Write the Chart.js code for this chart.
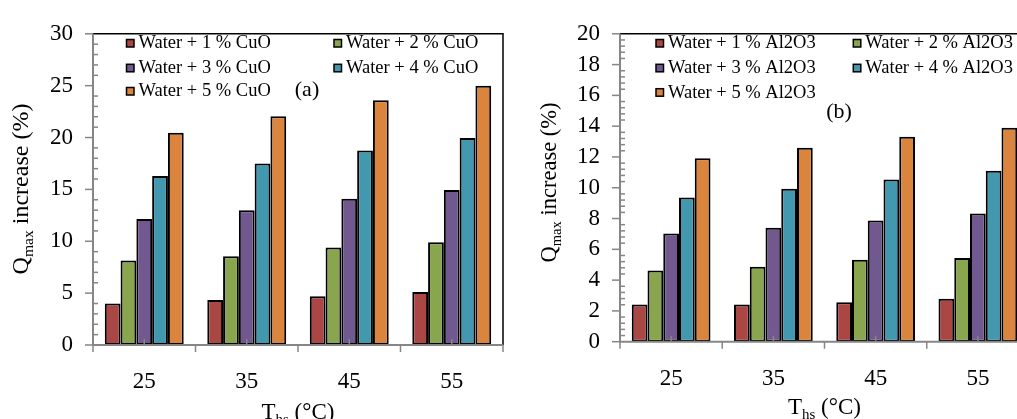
<!DOCTYPE html>
<html>
<head>
<meta charset="utf-8">
<script src="https://cdn.jsdelivr.net/npm/chart.js@4.4.1/dist/chart.umd.min.js"></script>
<style>
  html, body { margin: 0; padding: 0; background: #fff; overflow: hidden; width: 1017px; height: 419px; }
  canvas { position: absolute; top: 0; }
  #chartCuO { left: 0; }
  #chartAl2O3 { left: 510px; }
</style>
</head>
<body>
<canvas id="chartCuO" width="510" height="419"></canvas>
<canvas id="chartAl2O3" width="530" height="419"></canvas>
<script>
var temperaturas = ['25', '35', '45', '55'];

var nombresCuO = ['Water + 1 % CuO', 'Water + 2 % CuO', 'Water + 3 % CuO', 'Water + 4 % CuO', 'Water + 5 % CuO'];
var cuo1 = [4.0, 4.35, 4.7, 5.1];
var cuo2 = [8.15, 8.55, 9.4, 9.9];
var cuo3 = [12.15, 13.0, 14.1, 14.95];
var cuo4 = [16.3, 17.5, 18.75, 19.95];
var cuo5 = [20.45, 22.05, 23.6, 25.0];

var nombresAl = ['Water + 1 % Al2O3', 'Water + 2 % Al2O3', 'Water + 3 % Al2O3', 'Water + 4 % Al2O3', 'Water + 5 % Al2O3'];
var al1 = [2.42, 2.42, 2.56, 2.79];
var al2 = [4.62, 4.87, 5.33, 5.43];
var al3 = [7.03, 7.4, 7.88, 8.32];
var al4 = [9.36, 9.94, 10.54, 11.1];
var al5 = [11.92, 12.6, 13.31, 13.89];

var colores = ['#AA4643', '#89A54E', '#71588F', '#4198AF', '#DB843D'];
var fuente = "'Liberation Serif', 'Times New Roman', serif";

// texto con subindice: partes [texto, esSub]
function textoSub(ctx, partes, x, y, size) {
  var total = 0;
  partes.forEach(function(p) {
    ctx.font = (p[1] ? size * 0.65 : size) + 'px ' + fuente;
    total += ctx.measureText(p[0]).width;
  });
  var cx = x - total / 2;
  partes.forEach(function(p) {
    ctx.font = (p[1] ? size * 0.65 : size) + 'px ' + fuente;
    ctx.fillText(p[0], cx, p[1] ? y + size * 0.2 : y);
    cx += ctx.measureText(p[0]).width;
  });
}

var decoracion = {
  id: 'decoracion',
  afterDatasetsDraw: function(chart, args, opts) {
    var ctx = chart.ctx, a = chart.chartArea, y = chart.scales.y;
    ctx.save();
    ctx.strokeStyle = '#000';
    ctx.lineWidth = 1.5;
    ctx.beginPath();
    ctx.moveTo(a.left, a.top);
    ctx.lineTo(a.right, a.top);
    ctx.lineTo(a.right, a.bottom);
    ctx.stroke();

    ctx.strokeStyle = '#868686';
    ctx.lineWidth = 1.5;
    for (var v = y.min; v <= y.max + 1e-6; v += opts.menor) {
      var py = y.getPixelForValue(v);
      var r = v / opts.mayor;
      ctx.beginPath();
      if (Math.abs(r - Math.round(r)) < 1e-6) {
        ctx.moveTo(a.left - 8, py); ctx.lineTo(a.left, py);
      } else {
        ctx.moveTo(a.left, py); ctx.lineTo(a.left + 5, py);
      }
      ctx.stroke();
    }
    var n = chart.data.labels.length, w = (a.right - a.left) / n;
    for (var i = 0; i <= n; i++) {
      ctx.beginPath();
      ctx.moveTo(a.left + i * w, a.bottom);
      ctx.lineTo(a.left + i * w, a.bottom + 7);
      ctx.stroke();
    }
    for (var j = 0; j < n; j++) {
      ctx.beginPath();
      ctx.moveTo(a.left + (j + 0.5) * w, a.bottom);
      ctx.lineTo(a.left + (j + 0.5) * w, a.bottom - 6);
      ctx.stroke();
    }
    ctx.lineWidth = 2;
    ctx.beginPath();
    ctx.moveTo(a.left, a.top);
    ctx.lineTo(a.left, a.bottom);
    ctx.lineTo(a.right, a.bottom);
    ctx.stroke();
    ctx.restore();
  },
  afterDraw: function(chart, args, opts) {
    var ctx = chart.ctx, a = chart.chartArea;
    ctx.save();
    ctx.fillStyle = '#000';
    ctx.textBaseline = 'middle';
    chart.data.datasets.forEach(function(ds, i) {
      var x = opts.columnas[i % 2], yy = opts.filas[Math.floor(i / 2)];
      ctx.fillStyle = ds.backgroundColor;
      ctx.fillRect(x, yy - 4, 7.5, 7.5);
      ctx.strokeStyle = '#000';
      ctx.lineWidth = 1.5;
      ctx.strokeRect(x, yy - 4, 7.5, 7.5);
      ctx.fillStyle = '#000';
      ctx.font = '18.5px ' + fuente;
      ctx.textAlign = 'left';
      ctx.fillText(ds.label, x + 12, yy);
    });
    ctx.textAlign = 'center';
    ctx.font = '22px ' + fuente;
    ctx.fillText(opts.panel, opts.panelX, opts.panelY);

    ctx.textAlign = 'left';
    ctx.textBaseline = 'alphabetic';
    textoSub(ctx, [['T', false], ['hs', true], [' (\u00B0C)', false]], (a.left + a.right) / 2, opts.tituloXY, 23);

    ctx.translate(opts.tituloYX, opts.tituloYY);
    ctx.rotate(-Math.PI / 2);
    textoSub(ctx, [['Q', false], ['max', true], [' increase (%)', false]], 0, 0, opts.tituloYSize);
    ctx.restore();
  }
};

function crearGrafica(id, nombres, series, cfg) {
  var datasets = series.map(function(s, i) {
    return {
      label: nombres[i],
      data: s,
      backgroundColor: colores[i],
      borderColor: '#000',
      borderWidth: 2,
      borderSkipped: false,
      categoryPercentage: 0.77,
      barPercentage: 1
    };
  });
  var ctx = document.getElementById(id).getContext('2d');
  return new Chart(ctx, {
    type: 'bar',
    data: { labels: temperaturas, datasets: datasets },
    options: {
      responsive: false,
      animation: false,
      devicePixelRatio: 1,
      layout: { padding: { left: 0, right: cfg.derecha, top: 21, bottom: 0 } },
      scales: {
        x: {
          grid: { display: false, drawTicks: false },
          border: { display: false },
          ticks: { padding: cfg.padX, color: '#000', font: { family: fuente, size: 23 } },
          afterFit: function(s) { s.height = cfg.altoX; }
        },
        y: {
          min: 0,
          max: cfg.max,
          grid: { display: false, drawTicks: false },
          border: { display: false },
          ticks: { stepSize: cfg.paso, padding: cfg.padY, color: '#000', font: { family: fuente, size: 23 } },
          afterFit: function(s) { s.width = cfg.anchoY; }
        }
      },
      plugins: {
        legend: { display: false },
        tooltip: { enabled: false },
        decoracion: cfg.deco
      }
    },
    plugins: [decoracion]
  });
}

window.onload = function() {
  crearGrafica('chartCuO', nombresCuO, [cuo1, cuo2, cuo3, cuo4, cuo5], {
    max: 30, paso: 5, derecha: 7, altoX: 74, anchoY: 93, padX: 23, padY: 20,
    deco: {
      mayor: 5, menor: 1,
      columnas: [126.5, 334], filas: [43.5, 68.3, 91.5],
      panel: '(a)', panelX: 307, panelY: 90.5,
      tituloXY: 419, tituloYX: 28, tituloYY: 189, tituloYSize: 24
    }
  });
  crearGrafica('chartAl2O3', nombresAl, [al1, al2, al3, al4, al5], {
    max: 20, paso: 2, derecha: 11, altoX: 77.3, anchoY: 110, padX: 23, padY: 20,
    deco: {
      mayor: 2, menor: 0.4,
      columnas: [146, 343.3], filas: [43.5, 68.3, 92.7],
      panel: '(b)', panelX: 329, panelY: 112,
      tituloXY: 414, tituloYX: 46.3, tituloYY: 182.5, tituloYSize: 22.5
    }
  });
};
</script>
</body>
</html>
